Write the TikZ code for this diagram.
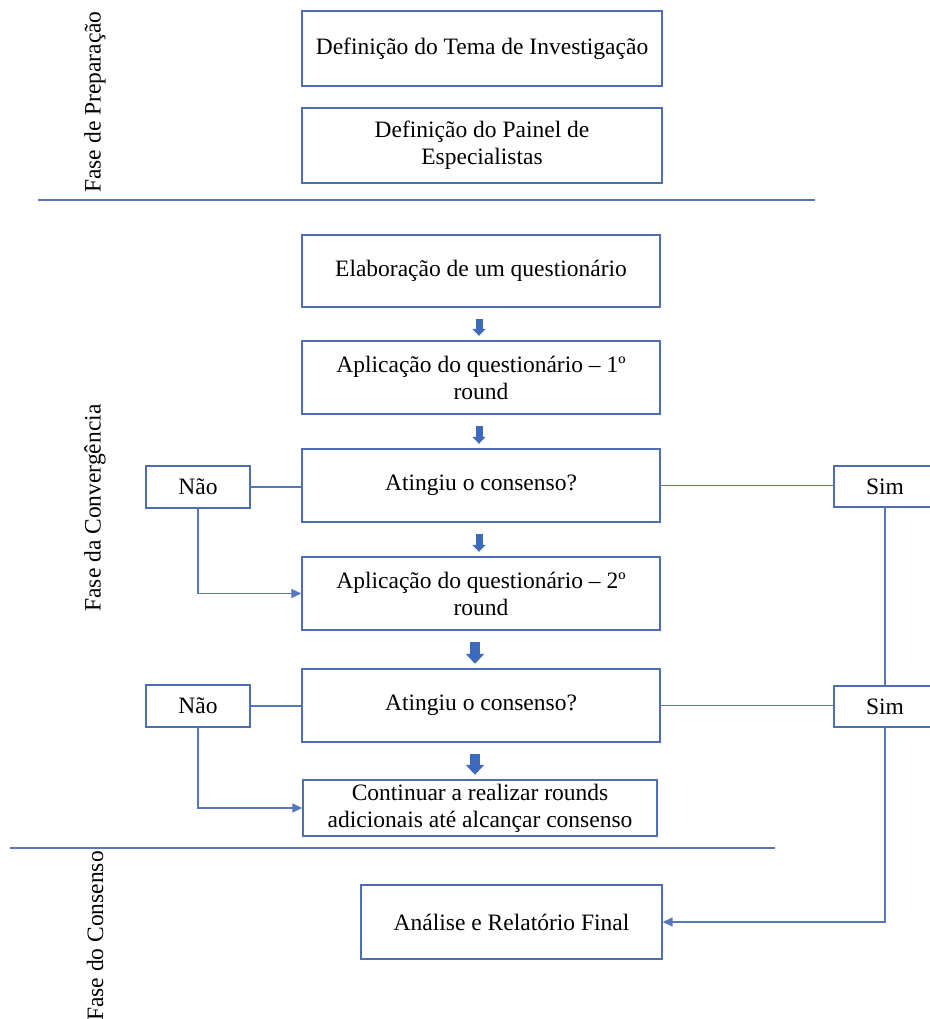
\documentclass[tikz,border=0pt]{standalone}
\usepackage{fontspec}
\setmainfont{Liberation Serif}
\usetikzlibrary{arrows.meta}
\definecolor{frameblue}{RGB}{79,110,178}
\definecolor{linkblue}{RGB}{88,118,190}
\definecolor{fillblue}{RGB}{62,106,190}
\begin{document}
\begin{tikzpicture}[x=1pt,y=-1pt,
  every node/.style={font=\fontsize{23.5}{27}\selectfont},
  stepbox/.style={draw=frameblue,line width=1.4pt,fill=white,minimum width=358pt,
    minimum height=73pt,align=center,inner sep=0pt},
  choice/.style={draw=frameblue,line width=1.4pt,fill=white,minimum width=104pt,
    minimum height=42pt,inner sep=0pt},
  link/.style={draw=linkblue,line width=1.6pt},
  flowtip/.style={link,-{Triangle[length=10pt,width=9pt]}},
  smallblock/.style={draw=fillblue,line width=7pt,shorten <=11pt,shorten >=4.5pt,
    -{Triangle[length=7pt,width=13pt]}},
  bigblock/.style={draw=fillblue,line width=10pt,shorten <=11pt,shorten >=4.5pt,
    -{Triangle[length=10pt,width=18pt]}},
  divider/.style={draw=linkblue,line width=1.6pt},
  phase/.style={rotate=90,inner sep=0pt}
]
\useasboundingbox (0,0) rectangle (929,1019);

% phase labels
\node[phase] (p1) at (95,102) {Fase de Preparação};
\node[phase] (p2) at (95,508) {Fase da Convergência};
\node[phase] (p3) at (95,936) {Fase do Consenso};

% phase dividers
\coordinate (d1a) at (38,200);
\coordinate (d1b) at (815,200);
\coordinate (d2a) at (10,848);
\coordinate (d2b) at (775,848);
\draw[divider] (d1a) -- (d1b);
\draw[divider] (d2a) -- (d2b);

% preparation
\node[stepbox,minimum width=360pt,minimum height=75pt] (tema) at (482,48.5)
  {Definição do Tema de Investigação};
\node[stepbox,minimum width=360pt,minimum height=75pt] (painel) at (482,145.5)
  {Definição do Painel de\\Especialistas};

% convergence
\node[stepbox,minimum height=72pt] (quest) at (481,271) {Elaboração de um questionário};
\node[stepbox] (round1) at (481,377.5) {Aplicação do questionário – 1º\\round};
\node[stepbox] (cons1) at (481,485.5) {Atingiu o consenso?};
\node[stepbox] (round2) at (481,593.5) {Aplicação do questionário – 2º\\round};
\node[stepbox] (cons2) at (481,705.5) {Atingiu o consenso?};
\node[stepbox,minimum width=354pt,minimum height=56pt] (more) at (480,808)
  {Continuar a realizar rounds\\adicionais até alcançar consenso};

\node[choice] (nao1) at (198,487) {Não};
\node[choice] (nao2) at (198,706) {Não};
\node[choice,minimum width=102pt,minimum height=41pt] (sim1) at (885,486.5) {Sim};
\node[choice,minimum width=102pt,minimum height=41pt] (sim2) at (885,706.5) {Sim};

% consensus
\node[stepbox,minimum width=301pt,minimum height=74pt] (final) at (511.5,922)
  {Análise e Relatório Final};

% block arrows between steps
\draw[smallblock] ([xshift=-2pt]quest.south) -- ([xshift=-2pt]round1.north);
\draw[smallblock] ([xshift=-2pt]round1.south) -- ([xshift=-2pt]cons1.north);
\draw[smallblock] ([xshift=-2pt]cons1.south) -- ([xshift=-2pt]round2.north);
\draw[bigblock] ([xshift=-6pt]round2.south) -- ([xshift=-6pt]cons2.north);
\draw[bigblock] ([xshift=-6pt]cons2.south) -- ([xshift=-5pt]more.north);

% decision branches
\draw[link] (nao1.east) -- (nao1.east -| cons1.west);
\draw[link] (cons1.east) -- (cons1.east -| sim1.west);
\draw[flowtip] (nao1.south) |- (round2.west);
\draw[link] (nao2.east) -- (nao2.east -| cons2.west);
\draw[link] (cons2.east) -- (cons2.east -| sim2.west);
\draw[flowtip] (nao2.south) |- (more.west);
\draw[link] (sim1.south) -- (sim2.north);
\draw[flowtip] (sim2.south) |- (final.east);
\end{tikzpicture}
\end{document}
